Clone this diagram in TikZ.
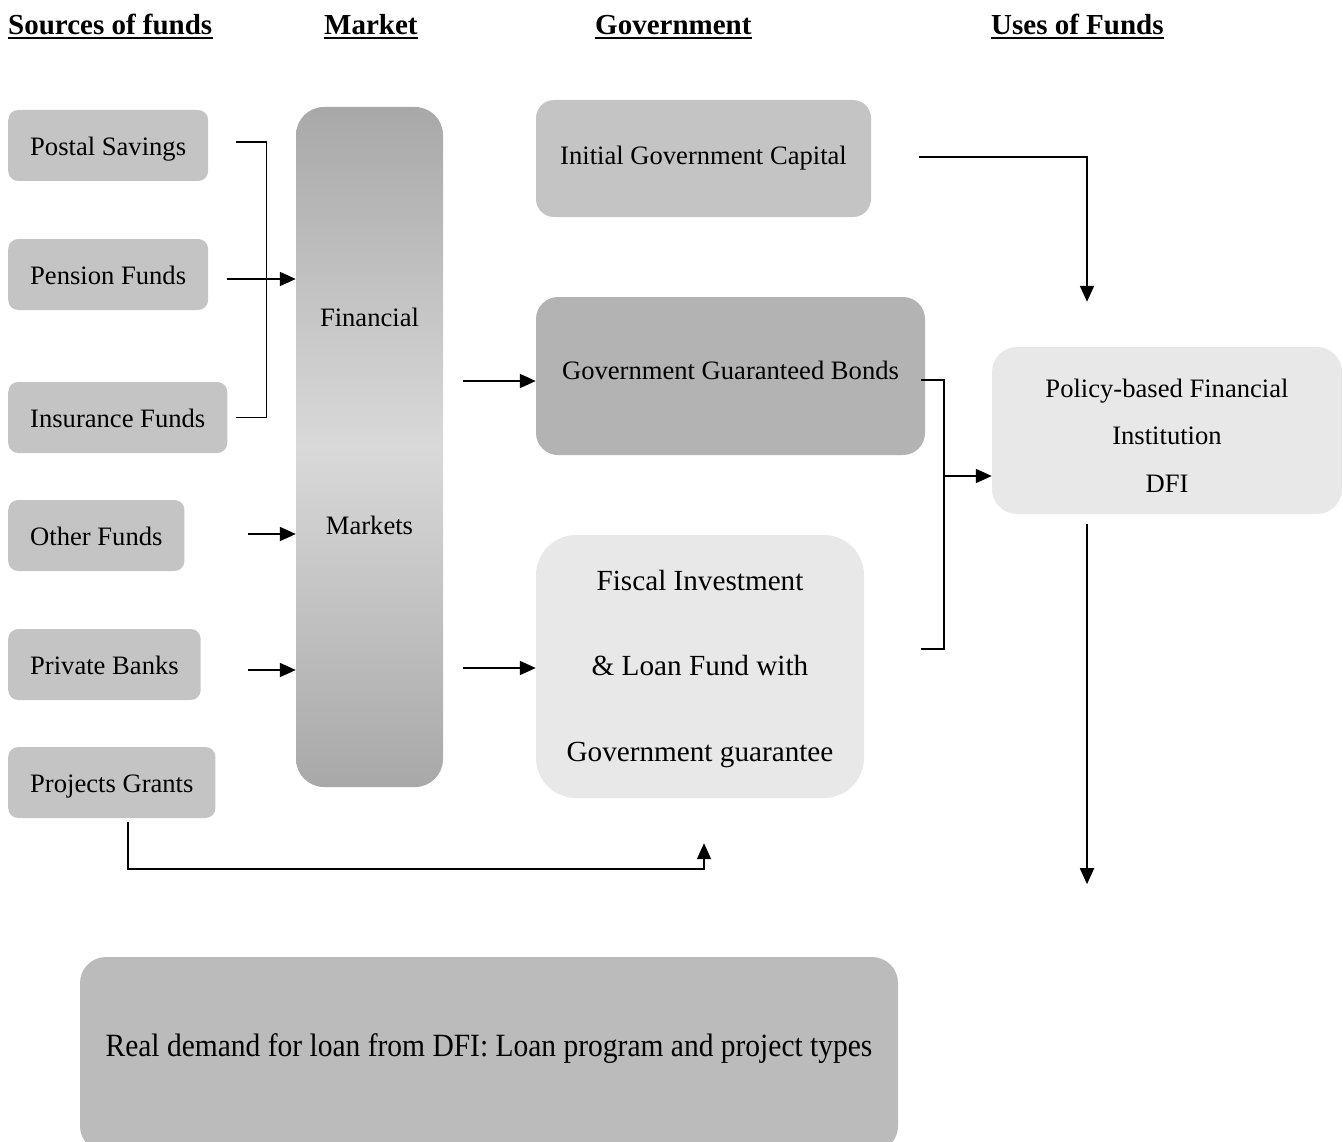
\documentclass[tikz,border=0pt]{standalone}
\usepackage{fontspec}
\setmainfont{Liberation Serif}
\usetikzlibrary{arrows.meta,calc}

\definecolor{boxgrey}{HTML}{C4C4C4}
\definecolor{bondgrey}{HTML}{B3B3B3}
\definecolor{demandgrey}{HTML}{BBBBBB}
\definecolor{palegrey}{HTML}{E8E8E8}
\definecolor{barend}{HTML}{A8A8A8}
\definecolor{barmid}{HTML}{D9D9D9}

% lower a block of text without changing the space it claims
\newcommand{\droptext}[2]{\raisebox{-#1}[\height][\depth]{#2}}

\begin{document}
\begin{tikzpicture}[x=1pt,y=-1pt,
  body/.style={font=\fontsize{26.6}{32}\selectfont},
  heading/.style={font=\fontsize{29}{34}\selectfont\bfseries, inner sep=0pt, anchor=base west},
  source/.style={body, fill=boxgrey, rounded corners=10pt, inner xsep=22pt, minimum height=71pt,
                 text height=26pt, text depth=6pt, anchor=west},
  govbox/.style={body, inner sep=0pt},
  conn/.style={line width=1.9pt},
  arr/.style={conn, -{Triangle[length=16pt,width=14pt]}},
]
\useasboundingbox (0,0) rectangle (1343,1142);
\clip (0,0) rectangle (1343,1142);

% column headings
\node[heading] (hs) at (8,34.5) {Sources of funds};
\node[heading] (hm) at (324,34.5) {Market};
\node[heading] (hg) at (595,34.5) {Government};
\node[heading] (hu) at (991,34.5) {Uses of Funds};
\foreach \h in {hs,hm,hg,hu}
  \draw[line width=2.8pt] ([yshift=-3.5pt]\h.base west) -- ([yshift=-3.5pt]\h.base east);

% sources of funds
\node[source] (postal)  at (8,145.5) {Postal Savings};
\node[source] (pension) at (8,274.5) {Pension Funds};
\node[source] (insur)   at (8,417.5) {Insurance Funds};
\node[source] (other)   at (8,535.5) {Other Funds};
\node[source] (banks)   at (8,664.5) {Private Banks};
\node[source] (grants)  at (8,782.5) {Projects Grants};

% financial markets bar
\node[inner sep=0pt, minimum width=147pt, minimum height=680pt, rounded corners=28pt,
      top color=barend, bottom color=barend, middle color=barmid] (fm) at (369.5,447) {};
\node[body] (fmA) at (369.5,317) {Financial};
\node[body] (fmB) at (369.5,525) {Markets};

% government
\node[govbox, fill=boxgrey, rounded corners=18pt, minimum width=335pt, minimum height=117pt]
  (igc) at (703.5,158.5) {Initial Government Capital};
\node[govbox, fill=bondgrey, rounded corners=22pt, minimum width=389pt, minimum height=158pt,
      text height=19pt, text depth=12pt]
  (ggb) at (730.5,376) {Government Guaranteed Bonds};
\node[inner sep=0pt, fill=palegrey, rounded corners=40pt, minimum width=328pt, minimum height=263pt,
      font=\fontsize{29.2}{34}\selectfont]
  (filp) at (700,666.5)
  {\droptext{2.5pt}{\begin{tabular}{@{}c@{}}Fiscal Investment\\[51.5pt] \& Loan Fund with\\[51.5pt] Government guarantee\end{tabular}}};

% uses of funds
\node[inner sep=0pt, fill=palegrey, rounded corners=25pt, minimum width=350pt, minimum height=167pt,
      font=\fontsize{26.6}{32}\selectfont]
  (dfi) at (1167,430.5)
  {\droptext{8pt}{\begin{tabular}{@{}c@{}}Policy-based Financial\\[15.5pt] Institution\\[15.5pt] DFI\end{tabular}}};

% loan demand
\node[inner sep=0pt, fill=demandgrey, rounded corners=26pt, minimum width=818pt, minimum height=195pt]
  (demand) at (489,1054.5) {};
\node[font=\fontsize{29.5}{34}\selectfont] (demandtxt) at (489,1049)
  {\scalebox{1}[1.1]{Real demand for loan from DFI: Loan program and project types}};

% sources into the market
\draw[conn] ([xshift=28pt,yshift=3.5pt]postal.east) coordinate (ps)
  -| ($(insur.east)+(39,0)$) -- ([xshift=9pt]insur.east);
\draw[arr] ([xshift=19pt,yshift=-4.5pt]pension.east) coordinate (pn) -- (pn -| fm.west);
\draw[arr] ([xshift=63pt,yshift=1.5pt]other.east) coordinate (of) -- (of -| fm.west);
\draw[arr] ([xshift=47pt,yshift=-5.5pt]banks.east) coordinate (pb) -- (pb -| fm.west);

% market into government
\draw[arr] ($(fm.east |- ggb.west)+(20,5)$) -- ($(ggb.west)+(0,5)$);
\draw[arr] ($(fm.east |- filp.west)+(20,1.5)$) -- ($(filp.west)+(0,1.5)$);

% project grants into the fund
\draw[arr] ($(grants.south)+(16.5,4)$) |- ($(filp.south)+(4,71)$) -- ($(filp.south)+(4,45)$);

% government into the institution
\coordinate (dfiIn) at ($(dfi.north)+(-80,-45)$);
\draw[arr] ($(igc.east)+(48,-1.5)$) -| (dfiIn);
\draw[conn] ($(ggb.east)+(-4,4)$) -- ++(23,0) |- ($(filp.east)+(57,-17.5)$);
\draw[arr] ($(dfi.west)+(-48,45.5)$) -- ($(dfi.west)+(0,45.5)$);

% institution out to uses
\coordinate (uses) at ($(dfi.south)+(-80,370)$);
\draw[arr] ($(dfi.south)+(-80,10)$) -- (uses);
\end{tikzpicture}
\end{document}
